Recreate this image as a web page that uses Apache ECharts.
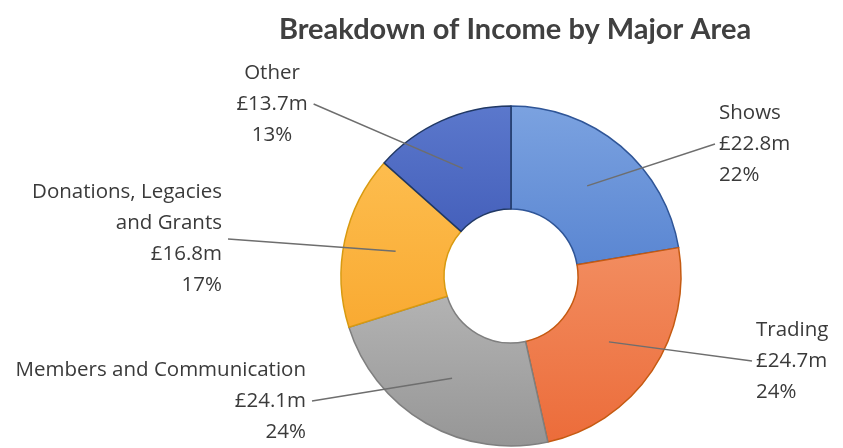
<!DOCTYPE html>
<html>
<head>
<meta charset="utf-8">
<script src="https://cdn.jsdelivr.net/npm/echarts@6/dist/echarts.min.js"></script>
<style>
html,body{margin:0;padding:0;background:#fff;}
#chart{width:843px;height:448px;}
</style>
</head>
<body>
<div id="chart"></div>
<script>
const title = 'Breakdown of Income by Major Area';
const categories = ['Shows', 'Trading', 'Members and Communication', 'Donations, Legacies\nand Grants', 'Other'];
const values = [22.8, 24.7, 24.1, 16.8, 13.7];
const percentLabels = ['22%', '24%', '24%', '17%', '13%'];
const valueLabels = ['£22.8m', '£24.7m', '£24.1m', '£16.8m', '£13.7m'];

const palette = [
  ['#7ba2e0', '#5a86d2', '#2f5597'],
  ['#f28d60', '#ec6c3a', '#c55a11'],
  ['#b3b3b3', '#969696', '#7f7f7f'],
  ['#fdbd4e', '#f9aa32', '#d89a10'],
  ['#5b78cc', '#4560bb', '#203864']
];

// label placement (layout only)
const labelPlace = [
  {x: 719, y: 144, align: 'left', side: 'left'},
  {x: 756, y: 361, align: 'left', side: 'left'},
  {x: 306, y: 401, align: 'right', side: 'right'},
  {x: 222, y: 239, align: 'right', side: 'right'},
  {x: 272, y: 104, align: 'center', side: 'right'}
];

const center = [511, 276];
const chart = echarts.init(document.getElementById('chart'));

const visData = values.map((v, i) => ({
  name: categories[i],
  value: v,
  itemStyle: {
    color: new echarts.graphic.LinearGradient(0, 0, 0, 1, [
      {offset: 0, color: palette[i][0]},
      {offset: 1, color: palette[i][1]}
    ]),
    borderColor: palette[i][2],
    borderWidth: 1.5
  }
}));

const labelData = values.map((v, i) => ({
  name: categories[i],
  value: v
}));

chart.setOption({
  animation: false,
  backgroundColor: '#ffffff',
  title: {
    text: title,
    left: 510,
    textAlign: 'center',
    top: 10,
    textStyle: {
      fontFamily: 'Lato',
      fontWeight: 'bold',
      fontSize: 29,
      color: '#404040'
    }
  },
  series: [
    {
      type: 'pie',
      center: center,
      radius: [67, 170],
      startAngle: 90,
      clockwise: true,
      silent: true,
      label: {show: false},
      labelLine: {show: false},
      data: visData
    },
    {
      type: 'pie',
      center: center,
      radius: [0, 118],
      startAngle: 90,
      clockwise: true,
      silent: true,
      z: 3,
      itemStyle: {color: 'rgba(0,0,0,0)', borderWidth: 0},
      label: {
        show: true,
        position: 'outside',
        fontFamily: 'Open Sans',
        fontSize: 20.5,
        lineHeight: 31,
        color: '#3a3a3a',
        formatter: p => categories[p.dataIndex] + '\n' + valueLabels[p.dataIndex] + '\n' + percentLabels[p.dataIndex]
      },
      labelLine: {
        show: true,
        length: 20,
        length2: 20,
        lineStyle: {color: '#6e6e6e', width: 1.5}
      },
      labelLayout: function (params) {
        const i = params.dataIndex;
        const pl = labelPlace[i];
        const pts = params.labelLinePoints;
        const start = pts ? pts[0] : null;
        const w = params.labelRect.width;
        let left;
        if (pl.align === 'left') left = pl.x;
        else if (pl.align === 'right') left = pl.x - w;
        else left = pl.x - w / 2;
        const endX = pl.side === 'left' ? left - 4 : left + w + 6;
        const res = {
          x: pl.x,
          y: pl.y,
          align: pl.align,
          verticalAlign: 'middle'
        };
        if (start) {
          res.labelLinePoints = [start, [endX, pl.y]];
        }
        return res;
      },
      data: labelData
    }
  ]
});
</script>
</body>
</html>
